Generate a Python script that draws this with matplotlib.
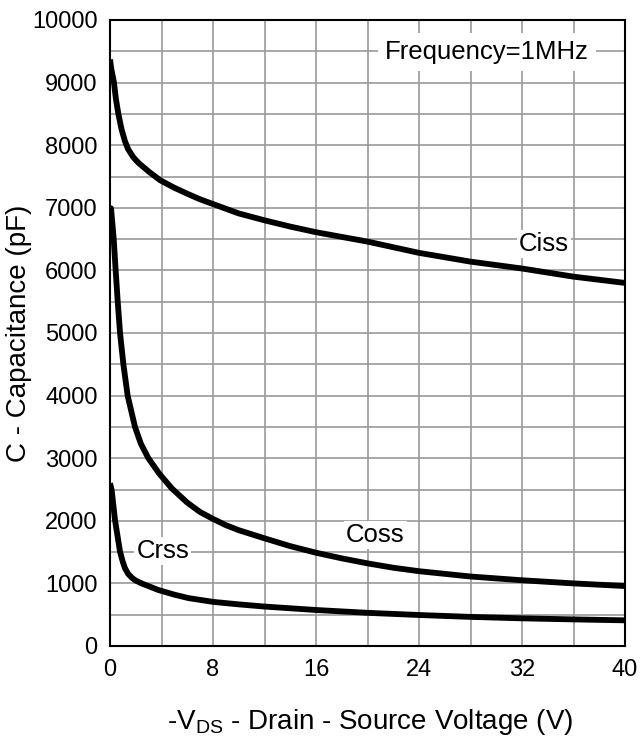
import matplotlib
matplotlib.use("Agg")
import matplotlib.pyplot as plt
import numpy as np

# Data
ciss_v = [0, 0.1, 0.31, 0.45, 0.65, 0.9, 1.17, 1.4, 1.8, 2.2, 3, 3.9, 5, 6, 7, 8, 10, 12, 14, 16, 20, 24, 28, 32, 36, 40]
ciss_c = [9370, 9220, 9000, 8750, 8500, 8250, 8060, 7940, 7810, 7720, 7580, 7440, 7320, 7225, 7135, 7060, 6910, 6800, 6700, 6610, 6460, 6280, 6140, 6030, 5900, 5800]

coss_v = [0, 0.08, 0.29, 0.44, 0.6, 0.78, 1.04, 1.37, 1.94, 2.4, 2.98, 3.8, 4.79, 6, 7, 8, 9, 10, 12, 14, 16, 18, 20, 22, 24, 28, 32, 36, 40]
coss_c = [7000, 6990, 6500, 6000, 5500, 5000, 4500, 4000, 3500, 3230, 3000, 2760, 2520, 2290, 2140, 2030, 1930, 1850, 1720, 1595, 1490, 1400, 1320, 1250, 1195, 1110, 1050, 1000, 958]

crss_v = [0, 0.13, 0.39, 0.78, 1.0, 1.17, 1.4, 1.7, 2.0, 2.46, 3.75, 5, 6.1, 8, 10, 12, 16, 20, 24, 28, 32, 36, 40]
crss_c = [2600, 2490, 2010, 1505, 1340, 1240, 1155, 1090, 1045, 1000, 895, 820, 765, 705, 665, 630, 575, 530, 495, 465, 442, 425, 410]

x_ticks = [0, 8, 16, 24, 32, 40]
y_ticks = [0, 1000, 2000, 3000, 4000, 5000, 6000, 7000, 8000, 9000, 10000]

plt.rcParams['font.family'] = ['Liberation Sans', 'DejaVu Sans']
plt.rcParams['mathtext.fontset'] = 'custom'
plt.rcParams['mathtext.rm'] = 'Liberation Sans'
plt.rcParams['mathtext.it'] = 'Liberation Sans'

fig = plt.figure(figsize=(6.41, 7.45), dpi=100)
ax = fig.add_axes([110/641, 1-646/745, (625-110)/641, (646-20)/745])

ax.set_xlim(0, 40)
ax.set_ylim(0, 10000)
ax.set_xticks(x_ticks)
ax.set_xticks(np.arange(0, 41, 4), minor=True)
ax.set_yticks(y_ticks)
ax.set_yticks(np.arange(0, 10001, 500), minor=True)
ax.grid(True, which='both', color='#9a9a9a', linewidth=1.2)
ax.set_axisbelow(True)
ax.tick_params(which='both', length=0)
ax.tick_params(axis='x', pad=9, labelsize=17)
ax.tick_params(axis='y', pad=9, labelsize=17)
for s in ax.spines.values():
    s.set_linewidth(1.5)
    s.set_color('black')

lw = 4.2
for v, c in ((ciss_v, ciss_c), (coss_v, coss_c), (crss_v, crss_c)):
    ax.plot(v, c, color='black', lw=lw, solid_capstyle='butt',
            solid_joinstyle='round', zorder=3)

bb = dict(facecolor='white', edgecolor='none', pad=1.5)
ax.text(33.7, 6420, 'Ciss', fontsize=18.5, ha='center', va='center', bbox=bb, zorder=4)
ax.text(20.6, 1770, 'Coss', fontsize=18.5, ha='center', va='center', bbox=bb, zorder=4)
ax.text(4.1, 1520, 'Crss', fontsize=18.5, ha='center', va='center', bbox=bb, zorder=4)
ax.text(29.3, 9490, 'Frequency=1MHz', fontsize=18.5, ha='center', va='center',
        bbox=dict(facecolor='white', edgecolor='none', pad=5), zorder=4)

fig.text(370/641, 1-722/745, r'-V$_{\rm DS}$ - Drain - Source Voltage (V)',
         fontsize=20, ha='center', va='center')
fig.text(19/641, 1-333/745, 'C - Capacitance (pF)', fontsize=20,
         ha='center', va='center', rotation=90)

fig.savefig('out.png', dpi=100, facecolor='white')
